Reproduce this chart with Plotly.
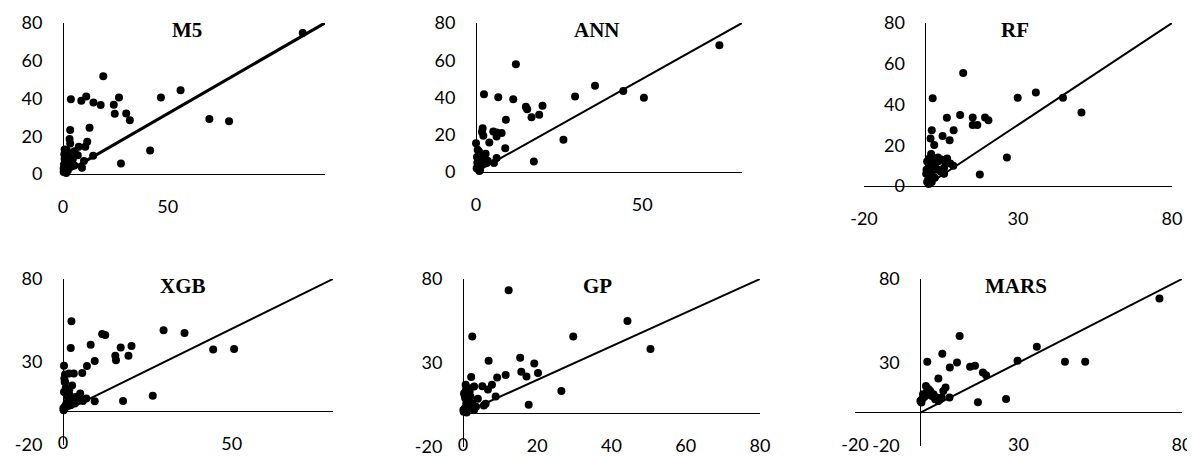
import plotly.graph_objects as go

# ---------------- data (observed vs predicted) ----------------
models = ["M5", "ANN", "RF", "XGB", "GP", "MARS"]

obs_M5 = [73.2, 44.7, 50.7, 35.9, 29.9, 26.6, 17.7, 20.4, 19.3, 17.1, 15.5, 15.8, 12.3, 11.5, 9.3, 9.2,
          7.1, 5.6, 8.1, 7.4, 6.8, 6.4, 5.8, 2.4, 2.2, 2.0, 2.2, 4.8, 3.5, 4.5, 3.0, 2.0, 1.0, 0.5, 0.3,
          0.8, 1.5, 0.2, 1.0, 2.5, 3.5, 1.2, 0.5, 0.8, 1.8, 0.2, 0.6, 1.5, 0.4, 1.2]
pred_M5 = [74.7, 29.1, 28.0, 44.4, 40.5, 12.5, 5.5, 28.5, 32.1, 40.5, 36.7, 31.9, 51.8, 36.5, 37.9, 9.7,
           41.1, 38.8, 24.5, 17.1, 14.4, 6.9, 3.3, 39.6, 23.3, 18.5, 16.2, 14.4, 12.0, 10.0, 8.0, 6.0, 10.0,
           8.0, 5.0, 3.0, 2.0, 1.0, 0.5, 4.0, 4.5, 12.5, 13.0, 7.0, 9.0, 3.0, 1.5, 6.0, 10.5, 11.0]

obs_ANN = [73.2, 44.3, 50.5, 35.8, 29.8, 26.3, 17.4, 20.0, 19.0, 16.7, 15.0, 15.4, 12.0, 11.2, 9.0, 8.8,
           6.7, 7.7, 6.2, 5.2, 6.2, 4.0, 2.4, 2.0, 1.8, 2.2, 2.9, 6.2, 5.4, 3.2, 0.0, 0.5, 1.0, 0.3, 0.8,
           1.5, 0.2, 1.2, 0.6, 2.5, 1.0, 0.4, 1.8, 0.9, 3.5]
pred_ANN = [68.1, 43.5, 39.9, 46.3, 40.5, 17.3, 5.7, 35.6, 30.7, 29.4, 35.1, 33.7, 57.9, 39.0, 28.0, 12.8,
            40.1, 20.9, 21.2, 21.7, 19.1, 15.9, 41.7, 23.5, 21.5, 19.5, 9.8, 7.5, 4.8, 4.8, 15.5, 12.0, 10.0,
            8.0, 6.0, 4.0, 2.0, 1.0, 3.0, 7.0, 0.5, 5.0, 9.0, 11.0, 6.0]

obs_RF = [44.6, 50.6, 35.8, 29.9, 26.4, 17.6, 12.2, 11.2, 15.3, 15.3, 16.8, 19.3, 20.4, 6.9, 9.1, 7.8,
          5.5, 2.3, 2.0, 1.6, 2.8, 1.8, 0.5, 1.0, 0.3, 1.0, 0.5, 1.5, 2.0, 3.0, 4.0, 5.0, 6.0, 7.0, 8.0,
          9.0, 6.0, 5.0, 6.0, 4.0, 3.0, 2.0, 1.0, 0.2, 0.8, 7.0, 4.0, 5.9, 2.5, 1.2]
pred_RF = [43.3, 36.1, 45.9, 43.3, 14.0, 5.7, 55.5, 34.9, 33.6, 29.9, 29.9, 33.6, 32.3, 33.5, 27.4, 22.5,
           24.5, 43.1, 27.4, 23.3, 20.1, 15.7, 2.0, 5.0, 8.0, 11.0, 12.0, 9.0, 6.0, 10.0, 12.0, 13.0, 12.5,
           12.0, 11.0, 10.0, 9.0, 7.0, 6.0, 8.0, 4.0, 2.0, 1.0, 6.0, 3.0, 13.5, 14.0, 6.2, 13.0, 13.5]

obs_XGB = [50.7, 44.5, 36.0, 29.8, 26.6, 17.8, 20.3, 19.4, 17.1, 15.5, 15.7, 11.6, 12.5, 8.2, 9.4, 7.1,
           5.7, 2.5, 2.3, 0.3, 3.2, 1.8, 0.6, 2.7, 0.5, 9.4, 5.1, 5.9, 6.9, 0.2, 0.5, 1.0, 1.5, 2.0, 3.0,
           4.0, 0.3, 0.8, 1.2, 2.5, 3.5, 4.5, 0.1, 0.6, 1.8, 0.4, 1.0, 2.2]
pred_XGB = [37.8, 37.5, 47.5, 49.1, 9.7, 6.5, 39.6, 33.8, 38.8, 33.8, 31.0, 46.8, 46.2, 40.4, 30.6, 27.6,
            23.4, 54.5, 38.4, 27.8, 23.0, 23.0, 22.5, 15.9, 17.9, 6.3, 11.0, 6.5, 8.0, 1.0, 3.0, 5.0, 8.0,
            10.0, 7.0, 9.0, 12.0, 14.0, 10.0, 6.0, 5.0, 8.0, 2.0, 18.0, 13.0, 20.0, 11.0, 4.0]

obs_GP = [12.3, 44.3, 50.5, 29.7, 26.5, 17.7, 2.5, 6.9, 15.4, 19.2, 20.2, 15.7, 17.1, 11.5, 9.2, 2.2,
          7.8, 6.7, 5.2, 8.8, 6.1, 5.6, 4.0, 0.7, 1.8, 3.0, 0.2, 0.5, 1.0, 1.5, 2.0, 0.3, 0.8, 1.2, 2.5,
          3.5, 0.1, 0.6, 1.8, 0.4, 1.0, 2.2, 3.0, 0.9]
pred_GP = [73.3, 55.0, 38.3, 45.7, 13.4, 5.1, 45.7, 31.3, 33.1, 29.7, 24.0, 24.8, 22.0, 22.8, 21.3, 21.7,
           17.0, 14.2, 16.1, 10.0, 5.7, 4.7, 8.7, 17.0, 15.0, 16.0, 1.0, 3.0, 5.0, 8.0, 10.0, 12.0, 14.0,
           7.0, 6.0, 4.0, 2.0, 9.0, 13.0, 11.0, 0.5, 3.0, 2.0, 6.0]

obs_MARS = [73.1, 50.4, 44.2, 35.6, 29.7, 26.2, 17.6, 19.1, 20.1, 15.2, 16.7, 12.0, 11.2, 9.0, 6.7, 5.5,
            2.1, 1.7, 2.1, 7.7, 7.0, 8.9, 0.0, 0.5, 1.0, 1.5, 2.0, 3.0, 4.0, 5.0, 6.0, 0.3, 0.8, 2.5, 3.5,
            4.5, 5.5, 6.5, 1.2, 0.2]
pred_MARS = [68.3, 30.4, 30.4, 39.5, 31.0, 8.1, 6.2, 24.0, 22.4, 27.4, 28.0, 45.8, 30.0, 27.0, 35.3, 20.4,
             30.4, 16.0, 14.5, 15.0, 13.0, 9.1, 7.0, 8.0, 9.0, 10.0, 12.0, 13.0, 11.0, 9.0, 8.0, 6.0, 11.0,
             14.0, 10.0, 8.0, 7.0, 9.0, 10.0, 7.0]

line_x = [0, 80]
line_y = [0, 80]

x_ranges = {"M5": [0, 80], "ANN": [0, 80], "RF": [-20, 80], "XGB": [0, 80], "GP": [0, 80], "MARS": [-20, 80]}
y_ranges = {"M5": [0, 80], "ANN": [0, 80], "RF": [0, 80], "XGB": [-20, 80], "GP": [-20, 80], "MARS": [-20, 80]}
x_tick_vals = {"M5": [0, 32], "ANN": [0, 50], "RF": [-20, 30, 80], "XGB": [0, 50],
               "GP": [0, 20, 40, 60, 80], "MARS": [-20, 30, 80]}
x_tick_text = {"M5": ["0", "50"], "ANN": ["0", "50"], "RF": ["-20", "30", "80"], "XGB": ["0", "50"],
               "GP": ["0", "20", "40", "60", "80"], "MARS": ["-20", "30", "80"]}
y_tick_top = [0, 20, 40, 60, 80]
y_tick_bottom = [-20, 30, 80]

data = {"M5": (obs_M5, pred_M5), "ANN": (obs_ANN, pred_ANN), "RF": (obs_RF, pred_RF),
        "XGB": (obs_XGB, pred_XGB), "GP": (obs_GP, pred_GP), "MARS": (obs_MARS, pred_MARS)}

# ---------------- layout geometry (page pixels) ----------------
PAGE_W, PAGE_H = 1195, 457
OFF = 8                       # default page body margin
W, H = PAGE_W - OFF, PAGE_H - OFF
geom = {
    "M5":   dict(px=(63, 325),   py=(174, 23)),
    "ANN":  dict(px=(476, 742),  py=(172, 23)),
    "RF":   dict(px=(864, 1172), py=(186, 23)),
    "XGB":  dict(px=(63, 333),   py=(445, 279)),
    "GP":   dict(px=(463, 760),  py=(447, 279)),
    "MARS": dict(px=(855, 1182), py=(446, 279)),
}
title_pos = {"M5": (187, 30), "ANN": (597, 30), "RF": (1015, 30),
             "XGB": (183, 286), "GP": (597, 286), "MARS": (1016, 286)}
LABEL_DROP = 33   # px from the horizontal axis line down to the x tick label centre


def fx(px):
    return (px - OFF) / W


def fy(py):
    return 1 - (py - OFF) / H


tick_font = dict(family="Lato, Open Sans, sans-serif", size=18, color="#000000")
title_font = dict(family="Liberation Serif, Times New Roman, serif", size=21, color="#000000")

fig = go.Figure()
layout = dict(width=W, height=H, margin=dict(l=0, r=0, t=0, b=0, pad=0, autoexpand=False),
              paper_bgcolor="white", plot_bgcolor="white", showlegend=False, annotations=[])

for i, m in enumerate(models, start=1):
    sfx = "" if i == 1 else str(i)
    g = geom[m]
    xr, yr = x_ranges[m], y_ranges[m]
    x0p, x1p = g["px"]
    ybp, ytp = g["py"]
    # pixel position of the zero lines (axes cross at 0, Excel style)
    zero_xpx = x0p + (0 - xr[0]) / (xr[1] - xr[0]) * (x1p - x0p)
    zero_ypx = ybp - (0 - yr[0]) / (yr[1] - yr[0]) * (ybp - ytp)
    px_per_unit_y = (ybp - ytp) / (yr[1] - yr[0])
    obs, pred = data[m]
    lw = 3.2 if m == "M5" else 2.0
    fig.add_trace(go.Scatter(x=line_x, y=line_y, mode="lines", line=dict(color="black", width=lw),
                             xaxis="x" + sfx, yaxis="y" + sfx, hoverinfo="skip"))
    fig.add_trace(go.Scatter(x=obs, y=pred, mode="markers", cliponaxis=False,
                             marker=dict(color="black", size=8, line=dict(width=0)),
                             xaxis="x" + sfx, yaxis="y" + sfx))

    # the x tick label under the axis crossing (where the vertical axis continues below 0)
    # is not shown by plotly's axis; it is written as a text mark at the same place
    xv, xt, tx_vals, tx_text = [], [], [], []
    for v, t in zip(x_tick_vals[m], x_tick_text[m]):
        if v == 0 and yr[0] < 0:
            tx_vals.append(v)
            tx_text.append(t)
        else:
            xv.append(v)
            xt.append(t)
    if tx_vals:
        fig.add_trace(go.Scatter(x=tx_vals, y=[-LABEL_DROP / px_per_unit_y] * len(tx_vals),
                                 text=tx_text, mode="text", textposition="middle center",
                                 textfont=tick_font, cliponaxis=False, hoverinfo="skip",
                                 xaxis="x" + sfx, yaxis="y" + sfx))

    yticks = y_tick_top if yr[0] == 0 else y_tick_bottom
    layout["xaxis" + sfx] = dict(
        domain=[fx(x0p), fx(x1p)], range=xr, anchor="free", position=fy(zero_ypx), automargin=False,
        showline=False, showgrid=False, zeroline=True, zerolinecolor="black", zerolinewidth=1.3,
        tickmode="array", tickvals=xv, ticktext=xt, ticklabeloverflow="allow",
        ticks="outside", ticklen=16, tickcolor="rgba(0,0,0,0)", tickfont=tick_font, fixedrange=True)
    layout["yaxis" + sfx] = dict(
        domain=[fy(ybp), fy(ytp)], range=yr, anchor="free", position=fx(zero_xpx), automargin=False,
        showline=False, showgrid=False, zeroline=True, zerolinecolor="black", zerolinewidth=1.3,
        tickmode="array", tickvals=yticks, ticktext=[str(v) for v in yticks], ticklabeloverflow="allow",
        ticks="outside", ticklen=17, tickcolor="rgba(0,0,0,0)", tickfont=tick_font, fixedrange=True)
    tx, ty = title_pos[m]
    layout["annotations"].append(dict(text="<b>%s</b>" % m, x=fx(tx), y=fy(ty), xref="paper", yref="paper",
                                      xanchor="center", yanchor="middle", showarrow=False, font=title_font))

fig.update_layout(**layout)
fig.write_html("out.html")
